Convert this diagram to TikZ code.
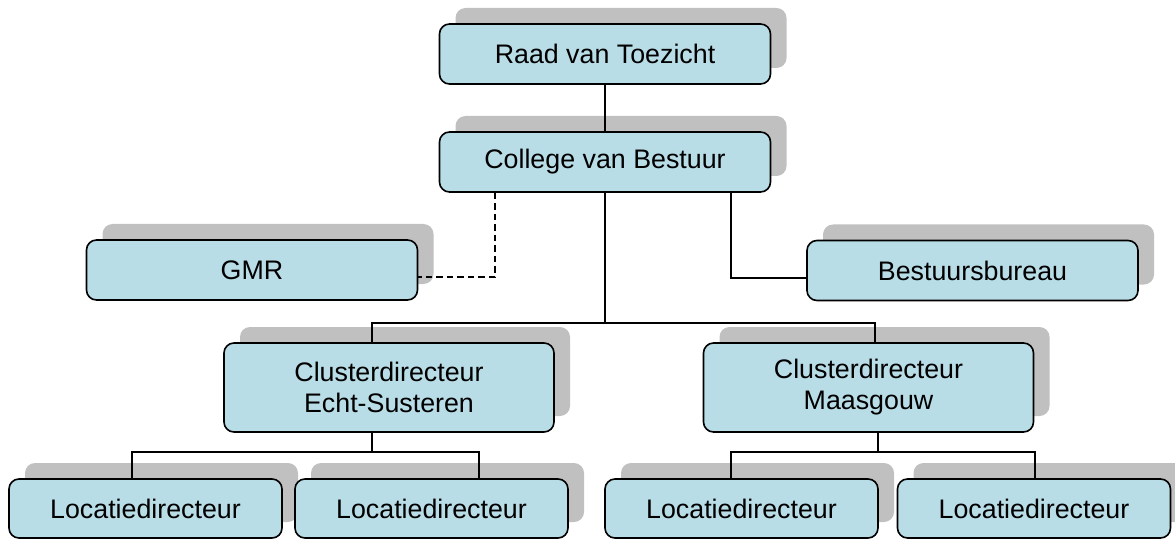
\documentclass[tikz,border=0pt]{standalone}
\usepackage{fontspec}
\setmainfont{Liberation Sans}
\usetikzlibrary{shadows}
\definecolor{boxblue}{RGB}{185,221,231}
\definecolor{shadowgray}{RGB}{192,192,192}

\begin{document}
\begin{tikzpicture}[x=1pt,y=-1pt,
    orgbox/.style={draw=black, line width=1.6pt, fill=boxblue, rounded corners=10pt,
        align=center, inner sep=0pt, font=\fontsize{26.8}{31}\selectfont,
        drop shadow={shadow xshift=16pt, shadow yshift=16pt, fill=shadowgray, draw=none, opacity=1}},
    topbox/.style={orgbox, minimum width=331pt, minimum height=60pt},
    clusterbox/.style={orgbox, minimum width=330pt, minimum height=89pt},
    locbox/.style={orgbox, minimum width=273pt, minimum height=59pt},
    link/.style={line width=1.5pt}]
        \useasboundingbox (0,0) rectangle (1175,540);
        % boxes
        \node[topbox](raad) at (605,54) {Raad van Toezicht};
        \node[topbox](college) at (605,162) {College van Bestuur};
        \node[topbox](gmr) at (252,270) {GMR};
        \node[topbox](bureau) at (972.5,270.5) {Bestuursbureau};
        \node[clusterbox](echt) at (389,387.5) {Clusterdirecteur\\Echt-Susteren};
        \node[clusterbox](maas) at (868.5,387.5) {Clusterdirecteur\\Maasgouw};
        \node[locbox](loc1) at (145.5,508.5) {Locatiedirecteur};
        \node[locbox](loc2) at (431.5,508.5) {Locatiedirecteur};
        \node[locbox](loc3) at (741.5,508.5) {Locatiedirecteur};
        \node[locbox](loc4) at (1034,508.5) {Locatiedirecteur};
        % lines
        \coordinate(busA) at (605,323);
        \coordinate(busB) at (372,452);
        \coordinate(busC) at (878,452);
        \draw[link](raad)--(college);
        \draw[link, dash pattern=on 6.5pt off 4pt]([xshift=-110pt]college.south) |- ([yshift=-7pt]gmr.east);
        \draw[link]([xshift=126pt]college.south) |- ([yshift=-7.5pt]bureau.west);
        \draw[link](college.south)--(busA);
        \draw[link]([xshift=-17pt]echt.north) |- (busA) -| ([xshift=6.5pt]maas.north);
        \draw[link](echt.south -| busB)--(busB);
        \draw[link]([xshift=-13.5pt]loc1.north) |- (busB) -| ([xshift=47.5pt]loc2.north);
        \draw[link](maas.south -| busC)--(busC);
        \draw[link]([xshift=-10.5pt]loc3.north) |- (busC) -| ([xshift=1pt]loc4.north);
        \end{tikzpicture}
\end{document}
